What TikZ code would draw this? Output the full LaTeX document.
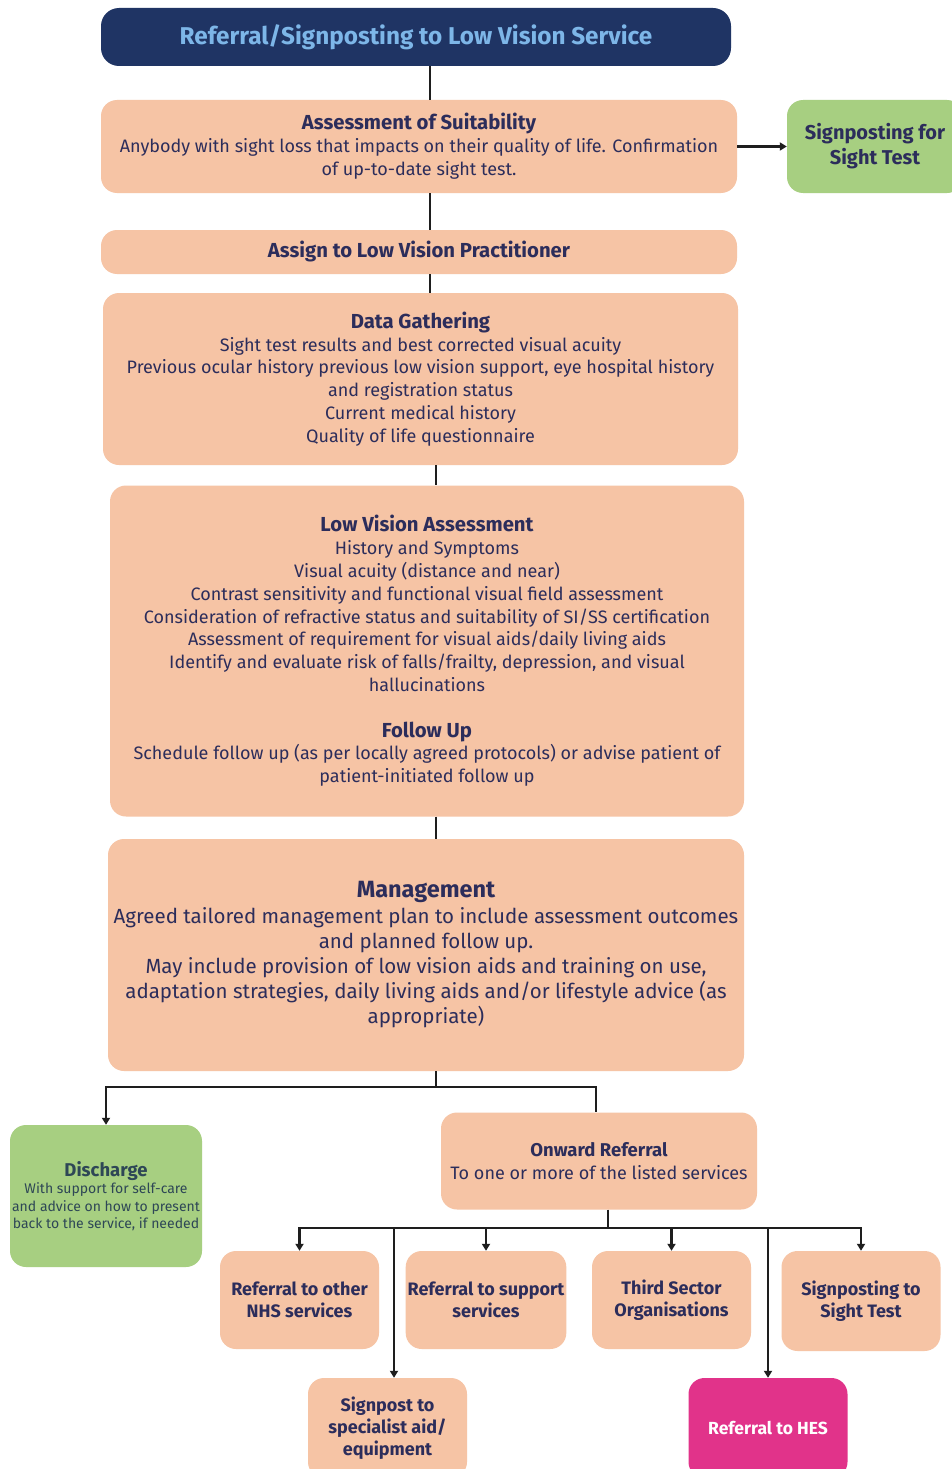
\documentclass[tikz,border=0pt]{standalone}
\usepackage{fontspec}
\setmainfont{Fira Sans}
\usetikzlibrary{arrows.meta,calc}
\definecolor{peach}{HTML}{F6C4A5}
\definecolor{leaf}{HTML}{A7CF81}
\definecolor{magen}{HTML}{E1338A}
\definecolor{navy}{HTML}{1F3464}
\definecolor{titletext}{HTML}{7DB6E8}
\definecolor{ink}{HTML}{2C2D5B}
\definecolor{slate}{HTML}{2E4756}
\definecolor{wire}{HTML}{1E1E1E}
\tikzset{
  basebox/.style={rounded corners=16pt, draw=none, align=center, inner sep=2pt},
  peachbox/.style={basebox, fill=peach, text=ink},
  leafbox/.style={basebox, fill=leaf},
  magbox/.style={basebox, fill=magen, text=white},
  titlebox/.style={basebox, fill=navy, text=titletext, rounded corners=18pt},
  wireline/.style={draw=wire, line width=2.1pt},
  wirearrow/.style={wireline, -{Triangle[length=7pt,width=8pt]}},
}
\newcommand{\hd}[1]{{\bfseries #1}}
\begin{document}
\begin{tikzpicture}[x=1pt,y=-1pt]
\clip (0,0) rectangle (952,1469);
\useasboundingbox (0,0) rectangle (952,1469);
\fill[white] (0,0) rectangle (952,1469);

\coordinate (ca) at (430,0);
\coordinate (cb) at (436,0);
\coordinate (cc) at (608,0);

\node[titlebox, minimum width=630pt, minimum height=58pt, font=\bfseries\fontsize{24.3}{28}\selectfont] (title) at (416,37) {Referral/Signposting to Low Vision Service};

\node[peachbox, minimum width=636pt, minimum height=93pt, font=\fontsize{18}{23}\selectfont] (assess) at (419,146.5)
 {\hd{\fontsize{20.3}{23}\selectfont Assessment of Suitability}\\
  Anybody with sight loss that impacts on their quality of life. Confirmation\\
  of up-to-date sight test.};

\node[leafbox, text=ink, minimum width=176pt, minimum height=93pt, font=\bfseries\fontsize{20}{25}\selectfont] (sightA) at (875,146.5)
 {Signposting for\\Sight Test};

\node[peachbox, minimum width=636pt, minimum height=44pt, font=\bfseries\fontsize{20.3}{23}\selectfont] (assign) at (419,252)
 {Assign to Low Vision Practitioner};

\node[peachbox, minimum width=635pt, minimum height=172pt, font=\fontsize{18}{22.8}\selectfont] (data) at (420.5,379)
 {\hd{\fontsize{20.3}{23}\selectfont Data Gathering}\\
  Sight test results and best corrected visual acuity\\
  Previous ocular history previous low vision support, eye hospital history\\
  and registration status\\
  Current medical history\\
  Quality of life questionnaire};

\node[peachbox, minimum width=634pt, minimum height=331pt, font=\fontsize{18}{22.8}\selectfont] (lva) at (427,651)
 {\hd{\fontsize{20.3}{23}\selectfont Low Vision Assessment}\\
  History and Symptoms\\
  Visual acuity (distance and near)\\
  Contrast sensitivity and functional visual field assessment\\
  Consideration of refractive status and suitability of SI/SS certification\\
  Assessment of requirement for visual aids/daily living aids\\
  Identify and evaluate risk of falls/frailty, depression, and visual\\
  hallucinations\\[22.8pt]
  \hd{\fontsize{20.3}{23}\selectfont Follow Up}\\
  Schedule follow up (as per locally agreed protocols) or advise patient of\\
  patient-initiated follow up};

\node[peachbox, minimum width=636pt, minimum height=232pt, font=\fontsize{20.5}{25.2}\selectfont] (mgmt) at (426,955)
 {\hd{\fontsize{23.5}{27}\selectfont Management}\\
  Agreed tailored management plan to include assessment outcomes\\
  and planned follow up.\\
  May include provision of low vision aids and training on use,\\
  adaptation strategies, daily living aids and/or lifestyle advice (as\\
  appropriate)};

\node[leafbox, text=slate, minimum width=192pt, minimum height=142pt, inner sep=0pt, font=\fontsize{14}{17.5}\selectfont] (discharge) at (106,1196)
 {\hd{\fontsize{18.5}{21}\selectfont Discharge}\\
  With support for self-care\\
  and advice on how to present\\
  back to the service, if needed};

\node[peachbox, minimum width=316pt, minimum height=97pt, font=\fontsize{18}{23}\selectfont] (onward) at (599,1161)
 {\hd{\fontsize{18.5}{23}\selectfont Onward Referral}\\
  To one or more of the listed services};

\tikzset{smallbox/.style={peachbox, minimum width=159pt, minimum height=98pt, font=\bfseries\fontsize{18}{22}\selectfont}}
\node[smallbox] (nhs) at (299.5,1300) {Referral to other\\NHS services};
\node[smallbox] (support) at (486,1300) {Referral to support\\services};
\node[smallbox] (third) at (671.5,1300) {Third Sector\\Organisations};
\node[smallbox, minimum height=100pt] (sightB) at (861,1301) {Signposting to\\Sight Test};
\node[smallbox, minimum height=100pt] (special) at (387.5,1428) {Signpost to\\specialist aid/\\equipment};
\node[smallbox, magbox, minimum height=100pt, font=\bfseries\fontsize{17.5}{22}\selectfont] (hes) at (768,1428) {Referral to HES};

% connectors
\draw[wireline] (title.south -| ca) -- (assess.north -| ca);
\draw[wireline] (assess.south -| ca) -- (assign.north -| ca);
\draw[wireline] (assign.south -| ca) -- (data.north -| ca);
\draw[wireline] (data.south -| cb) -- (lva.north -| cb);
\draw[wireline] (lva.south -| cb) -- (mgmt.north -| cb);
\draw[wirearrow] (assess.east) -- (assess.east -| sightA.west);

\coordinate (j1) at (436,1087);
\draw[wireline] (mgmt.south -| cb) -- (j1);
\draw[wirearrow] (j1) -| (discharge.north);
\draw[wireline] (j1) -| (onward.north -| 596,0);

\coordinate (j2) at (608,1228);
\draw[wireline] (onward.south -| cc) -- (j2);
\draw[wirearrow] (j2) -| (nhs.north);
\draw[wirearrow] (j2) -| (sightB.north);
\draw[wirearrow] (j2 -| support) -- (support.north);
\draw[wirearrow] (j2 -| third) -- (third.north);
\draw[wirearrow] (j2 -| 394,0) -- (special.north -| 394,0);
\draw[wirearrow] (j2 -| hes) -- (hes.north);
\end{tikzpicture}
\end{document}
